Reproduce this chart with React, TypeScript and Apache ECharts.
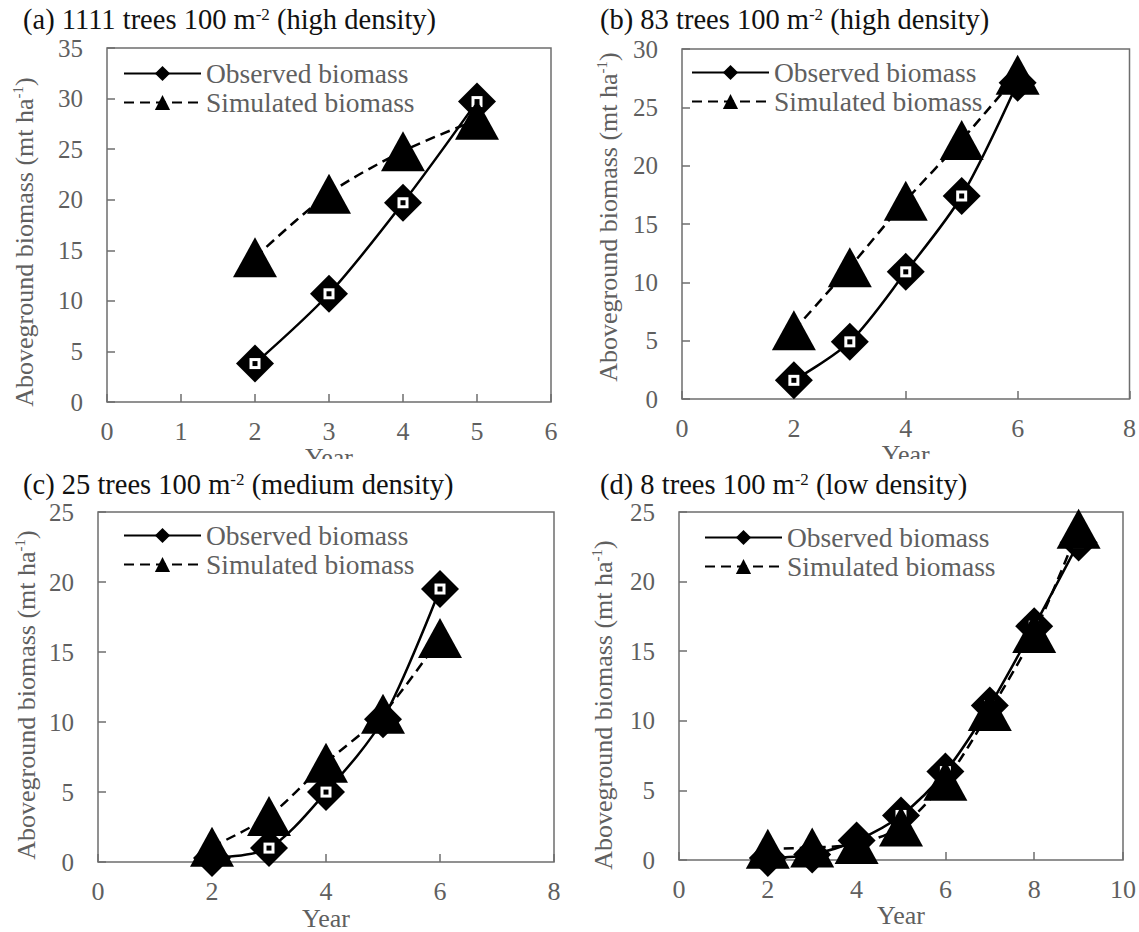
import React, { useEffect, useRef } from 'react';
import * as echarts from 'echarts';

// Panel (a) 1111 trees
const yearsA = [2, 3, 4, 5];
const observedA = [3.8, 10.7, 19.7, 29.7];
const simulatedA = [14.3, 20.6, 24.8, 27.9];
// Panel (b) 83 trees
const yearsB = [2, 3, 4, 5, 6];
const observedB = [1.6, 4.9, 10.9, 17.4, 27.1];
const simulatedB = [5.9, 11.3, 17.0, 22.2, 27.8];
// Panel (c) 25 trees
const yearsC = [2, 3, 4, 5, 6];
const observedC = [0.3, 1.0, 5.0, 10.2, 19.5];
const simulatedC = [1.1, 3.3, 7.1, 10.6, 16.0];
// Panel (d) 8 trees
const yearsD = [2, 3, 4, 5, 6, 7, 8, 9];
const observedD = [0.15, 0.4, 1.4, 3.2, 6.35, 11.1, 16.8, 22.8];
const simulatedD = [0.8, 0.9, 1.15, 2.4, 5.7, 10.7, 16.3, 23.8];

const xMaxes = [6, 8, 8, 10];
const xIntervals = [1, 2, 2, 2];
const yMaxes = [35, 30, 25, 25];
const yInterval = 5;

const panelTitles = [
  ['(a) 1111 trees 100 m', '-2', ' (high density)'],
  ['(b) 83 trees 100 m', '-2', ' (high density)'],
  ['(c) 25 trees 100 m', '-2', ' (medium density)'],
  ['(d) 8 trees 100 m', '-2', ' (low density)'],
];
const seriesNames = ['Observed biomass', 'Simulated biomass'];
const xName = 'Year';
const yNameParts = ['Aboveground biomass (mt ha', '-1', ')'];

const panelYears = [yearsA, yearsB, yearsC, yearsD];
const panelObserved = [observedA, observedB, observedC, observedD];
const panelSimulated = [simulatedA, simulatedB, simulatedC, simulatedD];

// layout
const grids = [
  { left: 107, top: 48, width: 444, height: 354 },
  { left: 682, top: 49, width: 450, height: 350 },
  { left: 98, top: 512, width: 456, height: 356 },
  { left: 679, top: 512, width: 446, height: 348 },
];
const xNameGaps = [34, 34, 40, 40];
const legendPos = [
  { left: 118, top: 54 },
  { left: 686, top: 53 },
  { left: 118, top: 516 },
  { left: 699, top: 518 },
];
const titlePos = [
  { x: 23, y: 19 },
  { x: 600, y: 19 },
  { x: 23, y: 484 },
  { x: 600, y: 484 },
];
const yNamePos = [
  { x: 24, y: 242 },
  { x: 608, y: 217 },
  { x: 26, y: 695 },
  { x: 603, y: 705 },
];

const FONT = 'Liberation Serif';
const GREY = '#5f5f5f';
const FRAME = '#6e6e6e';

function zip(xs: number[], ys: number[]) {
  return xs.map((x, i) => [x, ys[i]]);
}

export default function App() {
  const ref = useRef<HTMLDivElement>(null);
  useEffect(() => {
    if (!ref.current) return;
    const chart = echarts.init(ref.current, undefined, { renderer: 'svg' });

    const grid = grids.map((g) => ({
      ...g,
      show: true,
      borderColor: FRAME,
      borderWidth: 1.5,
      backgroundColor: 'transparent',
      containLabel: false,
    }));

    const xAxis = grids.map((_, i) => ({
      type: 'value',
      gridIndex: i,
      min: 0,
      max: xMaxes[i],
      interval: xIntervals[i],
      name: xName,
      nameLocation: 'middle',
      nameGap: xNameGaps[i],
      nameTextStyle: { fontFamily: FONT, fontSize: 26, color: GREY, lineHeight: 21 },
      axisLine: { show: false },
      axisTick: { show: true, inside: true, length: 8, lineStyle: { color: FRAME, width: 1.5 } },
      axisLabel: { fontFamily: FONT, fontSize: 26, color: GREY, margin: 17, lineHeight: 24 },
      splitLine: { show: false },
    }));

    const yAxis = grids.map((_, i) => ({
      type: 'value',
      gridIndex: i,
      min: 0,
      max: yMaxes[i],
      interval: yInterval,
      axisLine: { show: false },
      axisTick: { show: true, inside: true, length: 8, lineStyle: { color: FRAME, width: 1.5 } },
      axisLabel: { fontFamily: FONT, fontSize: 25, color: GREY, margin: 24, lineHeight: 22 },
      splitLine: { show: false },
    }));

    const series: any[] = [];
    for (let i = 0; i < 4; i++) {
      series.push({
        name: seriesNames[0],
        type: 'line',
        xAxisIndex: i,
        yAxisIndex: i,
        data: zip(panelYears[i], panelObserved[i]),
        smooth: 0.3,
        symbol: 'diamond',
        symbolSize: 38,
        z: 2,
        itemStyle: { color: '#000', borderColor: '#000', borderWidth: 0 },
        lineStyle: { color: '#000', width: 2.5, type: 'solid' },
      });
      series.push({
        name: 'obs-mark-outer',
        type: 'scatter',
        xAxisIndex: i,
        yAxisIndex: i,
        data: zip(panelYears[i], panelObserved[i]),
        symbol: 'rect',
        symbolSize: 11,
        silent: true,
        z: 3,
        itemStyle: { color: '#ffffff', opacity: 1 },
      });
      series.push({
        name: 'obs-mark-inner',
        type: 'scatter',
        xAxisIndex: i,
        yAxisIndex: i,
        data: zip(panelYears[i], panelObserved[i]),
        symbol: 'rect',
        symbolSize: 5,
        silent: true,
        z: 3,
        itemStyle: { color: '#000000', opacity: 1 },
      });
      series.push({
        name: seriesNames[1],
        type: 'line',
        xAxisIndex: i,
        yAxisIndex: i,
        data: zip(panelYears[i], panelSimulated[i]),
        smooth: 0.3,
        symbol: 'triangle',
        symbolSize: [44, 40],
        z: 4,
        itemStyle: { color: '#000', borderColor: '#000', borderWidth: 0 },
        lineStyle: { color: '#000', width: 2.5, type: [10, 6] },
      });
    }

    const legend = legendPos.map((p) => ({
      ...p,
      orient: 'vertical',
      data: seriesNames,
      selectedMode: false,
      itemWidth: 77,
      itemHeight: 19,
      itemGap: 0,
      textStyle: { fontFamily: FONT, fontSize: 27.5, color: GREY, lineHeight: 29 },
    }));

    const graphic: any[] = [];
    panelTitles.forEach((t, i) => {
      graphic.push({
        type: 'text',
        x: titlePos[i].x,
        y: titlePos[i].y,
        z: 50,
        style: {
          text: `{t|${t[0]}}{s|${t[1]}}{t|${t[2]}}`,
          align: 'left',
          verticalAlign: 'middle',
          rich: {
            t: { fontFamily: FONT, fontSize: 28.5, fill: '#111', lineHeight: 26 },
            s: { fontFamily: FONT, fontSize: 17, fill: '#111', verticalAlign: 'top', lineHeight: 26 },
          },
        },
      });
    });
    yNamePos.forEach((p) => {
      graphic.push({
        type: 'text',
        x: p.x,
        y: p.y,
        rotation: Math.PI / 2,
        z: 50,
        style: {
          text: `{t|${yNameParts[0]}}{s|${yNameParts[1]}}{t|${yNameParts[2]}}`,
          align: 'center',
          verticalAlign: 'middle',
          rich: {
            t: { fontFamily: FONT, fontSize: 26, fill: GREY, lineHeight: 28 },
            s: { fontFamily: FONT, fontSize: 15, fill: GREY, verticalAlign: 'top', lineHeight: 28 },
          },
        },
      });
    });
    // clip the top panels' x-axis titles where the lower panels begin
    graphic.push({
      type: 'rect',
      z: 100,
      shape: { x: 0, y: 459, width: 1139, height: 9 },
      style: { fill: '#fff' },
    });

    chart.setOption({
      animation: false,
      backgroundColor: '#fff',
      grid,
      xAxis,
      yAxis,
      legend,
      series,
      graphic,
    } as any);

    return () => chart.dispose();
  }, []);

  return (
    <div
      ref={ref}
      style={{ position: 'absolute', left: 0, top: 0, width: 1139, height: 932 }}
    />
  );
}
